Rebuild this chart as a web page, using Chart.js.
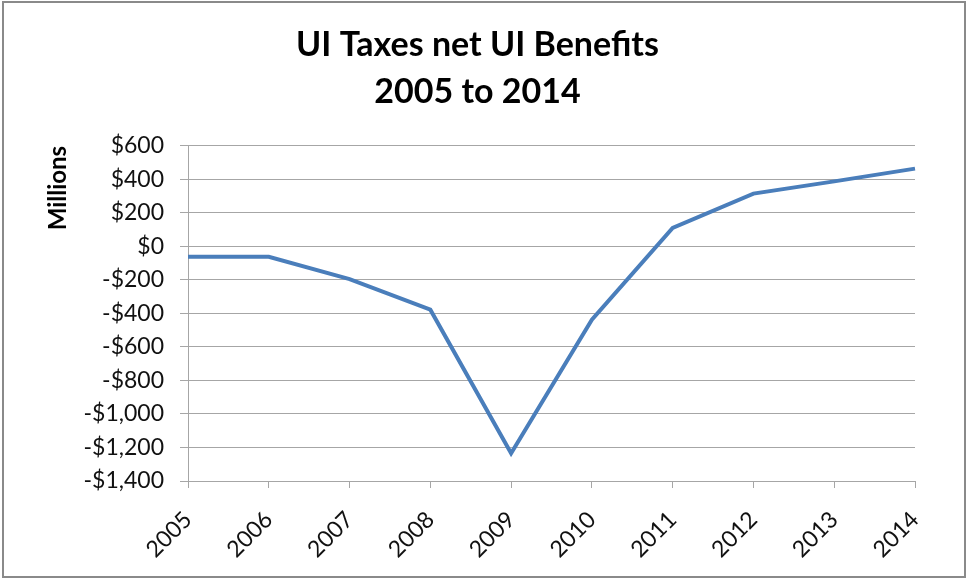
<!DOCTYPE html>
<html>
<head>
<meta charset="utf-8">
<script src="https://cdn.jsdelivr.net/npm/chart.js@4.4.1/dist/chart.umd.min.js"></script>
<style>
  html, body { margin: 0; padding: 0; background: #fff; }
  #wrap { width: 967px; height: 579px; }
</style>
</head>
<body>
<div id="wrap"><canvas id="myChart" width="967" height="579"></canvas></div>
<script>
let years = ['2005', '2006', '2007', '2008', '2009', '2010', '2011', '2012', '2013', '2014'];
let netValues = [-62, -62, -195, -378, -1235, -438, 110, 315, 388, 464];
let titleLines = ['UI Taxes net UI Benefits', '2005 to 2014'];

const fontName = 'Lato, "Open Sans", sans-serif';

// grey frame round the whole picture
const framePlugin = {
  id: 'frame',
  beforeDraw(chart) {
    const ctx = chart.ctx;
    ctx.save();
    ctx.fillStyle = '#fff';
    ctx.fillRect(0, 0, chart.width, chart.height);
    ctx.strokeStyle = '#8a8a8a';
    ctx.lineWidth = 2;
    ctx.strokeRect(3, 2, chart.width - 5, chart.height - 4);
    ctx.restore();
  }
};

function money(v) {
  const s = '$' + Math.abs(v).toLocaleString('en-US');
  return v < 0 ? '-' + s : s;
}

new Chart('myChart', {
  type: 'line',
  data: {
    labels: years,
    datasets: [{
      data: netValues,
      borderColor: '#4a7ebb',
      borderWidth: 4,
      pointRadius: 0,
      fill: false,
      tension: 0
    }]
  },
  options: {
    responsive: false,
    animation: false,
    layout: { padding: { left: 40, right: 52, top: 22, bottom: 10 } },
    plugins: {
      legend: { display: false },
      tooltip: { enabled: false },
      title: {
        display: true,
        text: titleLines,
        color: '#000',
        font: { family: fontName, size: 34, weight: 'bold', lineHeight: 1.38 },
        padding: { top: 0, bottom: 30 }
      }
    },
    scales: {
      x: {
        offset: false,
        afterFit(scale) { scale.height = 88; },
        grid: { display: true, drawOnChartArea: false, drawTicks: true, tickLength: 7, color: '#a6a6a6' },
        border: { display: true, color: '#a6a6a6' },
        ticks: { color: '#111', minRotation: 45, maxRotation: 45, padding: 18, font: { family: fontName, size: 23 } }
      },
      y: {
        min: -1400,
        max: 600,
        afterFit(scale) { scale.width = 148; },
        grid: { color: '#a6a6a6', tickLength: 8, lineWidth: 1 },
        border: { display: true, color: '#a6a6a6' },
        ticks: {
          stepSize: 200,
          color: '#111',
          padding: 16,
          font: { family: fontName, size: 23 },
          callback: (v) => money(v)
        },
        title: {
          display: true,
          text: 'Millions',
          align: 'end',
          color: '#000',
          padding: { top: 4, bottom: 0 },
          font: { family: fontName, size: 24, weight: 'bold' }
        }
      }
    }
  },
  plugins: [framePlugin]
});
</script>
</body>
</html>
